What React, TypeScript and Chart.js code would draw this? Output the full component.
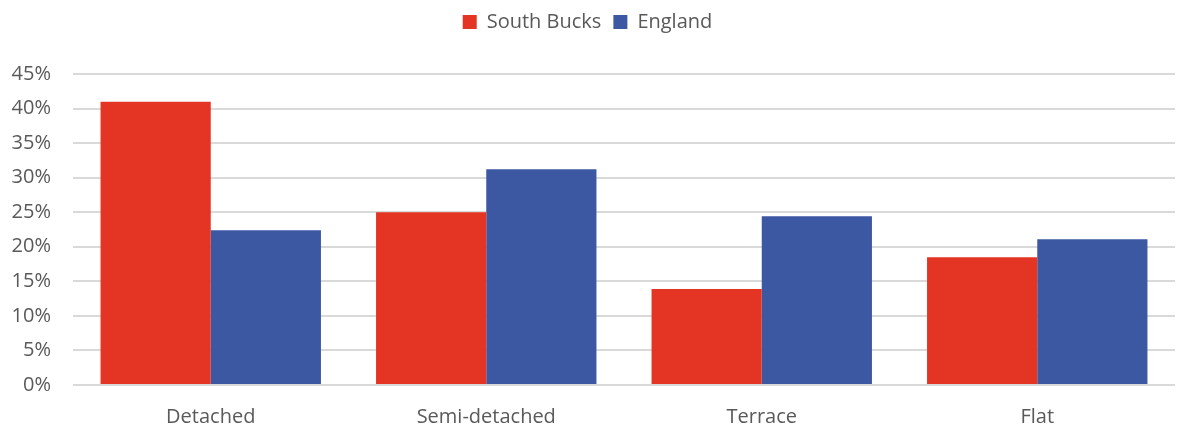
import React, { useEffect, useRef } from "react";
import { Chart, registerables } from "chart.js";

Chart.register(...registerables);

const categories = ["Detached", "Semi-detached", "Terrace", "Flat"];
const southBucks = [41.0, 25.0, 13.9, 18.5];
const england = [22.4, 31.2, 24.4, 21.1];
const seriesNames = ["South Bucks", "England"];

const FONT = "'Open Sans', Lato, sans-serif";

const legendSpacer = {
  id: "legendSpacer",
  beforeInit(chart: any) {
    const orig = chart.legend.fit;
    chart.legend.fit = function () {
      orig.bind(chart.legend)();
      this.height = 74;
    };
  },
};

export default function App() {
  const ref = useRef<HTMLCanvasElement | null>(null);
  useEffect(() => {
    document.body.style.margin = "0";
    const ctx = ref.current!;
    const chart = new Chart(ctx, {
      type: "bar",
      data: {
        labels: categories,
        datasets: [
          {
            label: seriesNames[0],
            data: southBucks,
            backgroundColor: "#E33424",
            borderWidth: 0,
            categoryPercentage: 0.8,
            barPercentage: 1.0,
          },
          {
            label: seriesNames[1],
            data: england,
            backgroundColor: "#3C58A3",
            borderWidth: 0,
            categoryPercentage: 0.8,
            barPercentage: 1.0,
          },
        ],
      },
      plugins: [legendSpacer],
      options: {
        animation: false,
        responsive: false,
        maintainAspectRatio: false,
        layout: { padding: { left: 0, right: 3, top: 0, bottom: 0 } },
        plugins: {
          tooltip: { enabled: false },
          legend: {
            position: "top",
            labels: {
              boxWidth: 14,
              boxHeight: 14,
              color: "#595959",
              font: { family: FONT, size: 20 },
              padding: 12,
            },
          },
        },
        scales: {
          x: {
            grid: { display: false, drawTicks: false },
            border: { display: false },
            afterFit: (s: any) => {
              s.height = 45;
            },
            ticks: {
              color: "#595959",
              font: { family: FONT, size: 20 },
              padding: 20,
            },
          },
          y: {
            min: 0,
            max: 45,
            grid: { color: "#d9d9d9", lineWidth: 2, drawTicks: false },
            border: { display: false },
            afterFit: (s: any) => {
              s.width = 73;
            },
            ticks: {
              stepSize: 5,
              color: "#595959",
              font: { family: FONT, size: 20 },
              padding: 22,
              callback: (v: any) => v + "%",
            },
          },
        },
      },
    });
    return () => chart.destroy();
  }, []);
  return (
    <div style={{ position: "absolute", left: 0, top: 0, width: 1178, height: 430 }}>
      <canvas ref={ref} width={1178} height={430} />
    </div>
  );
}
